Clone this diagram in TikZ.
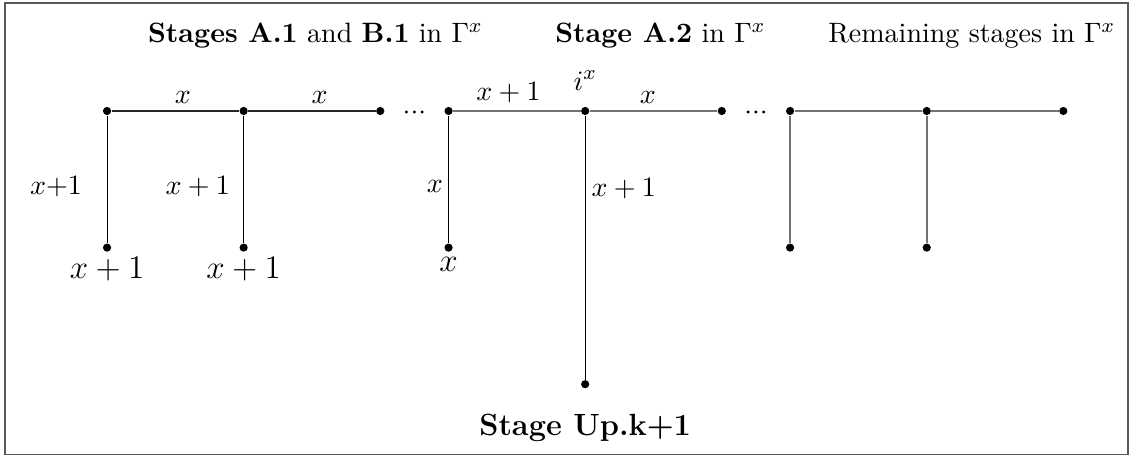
\RequirePackage{fix-cm}
\documentclass[11pt,tikz,border=0pt]{standalone}
\usetikzlibrary{positioning}

\begin{document}
\begin{tikzpicture}[x=26.7pt, y=26.7pt,
		dot/.style={circle, fill, inner sep=0pt, minimum size=3.2pt},
		dark/.style={line width=0.6pt, draw=black!85},
		faded/.style={line width=0.7pt, draw=black!55},
		big/.style={font=\fontsize{12.9}{15}\selectfont}]
		\useasboundingbox (-1.567,-5.11) rectangle (15.02,1.625);
		\draw[line width=0.6pt, black!65] (-1.49,-5.03) rectangle (14.95,1.58);
		
		\node[anchor=base] (head1) at (3.05,1.0) {\textbf{Stages A.1} and \textbf{B.1} in $\Gamma^x$};
		\node[anchor=base] (head2) at (8.1,1.0) {\textbf{Stage A.2} in $\Gamma^x$};
		\node[anchor=base] (head3) at (12.66,1.0) {Remaining stages in $\Gamma^x$};
		
		\node[dot] (t1) at (0,0) {};
		\node[dot] (t2) at (2,0) {};
		\node[dot] (t3) at (4,0) {};
		\node[yshift=-1pt] (dots1) at (4.5,0) {${\cdot}{\cdot}{\cdot}$};
		\node[dot] (t4) at (5,0) {};
		\node[dot] (t5) at (7,0) {};
		\node[dot] (t6) at (9,0) {};
		\node[yshift=-1pt] (dots2) at (9.5,0) {${\cdot}{\cdot}{\cdot}$};
		\node[dot] (t7) at (10,0) {};
		\node[dot] (t8) at (12,0) {};
		\node[dot] (t9) at (14,0) {};
		
		\node[dot] (b1) at (0,-2) {};
		\node[dot] (b2) at (2,-2) {};
		\node[dot] (b4) at (5,-2) {};
		\node[dot] (b5) at (7,-4) {};
		\node[dot] (b7) at (10,-2) {};
		\node[dot] (b8) at (12,-2) {};
		
		\draw[dark] (t1) -- node[pos=0.56, above=-1pt] {$x$} (t2) -- node[pos=0.56, above=-1pt] {$x$} (t3);
		\draw[faded] (t4) -- node[pos=0.435, above=-1pt] {$x+1$} (t5) -- node[pos=0.455, above=-1pt] {$x$} (t6);
		\draw[faded] (t7) -- (t8) -- (t9);
		
		\draw (t1) -- node[pos=0.556, left=6pt] {$x$+1} (b1);
		\draw (t2) -- node[pos=0.556, left=1.5pt] {$x+1$} (b2);
		\draw (t4) -- node[pos=0.556, left, inner sep=2pt] {$x$} (b4);
		\draw (t5) -- node[pos=0.278, right, inner sep=2.3pt] {$x+1$} (b5);
		\draw[faded] (t7) -- (b7);
		\draw[faded] (t8) -- (b8);
		
		\node[above=2.5pt of t5] (ix) {$i^x$};
		\node[big, below=-2pt of b1] (lb1) {$x+1$};
		\node[big, below=-2pt of b2] (lb2) {$x+1$};
		\node[big, below=-2pt of b4] (lb4) {$x$};
		\node[below=6pt of b5] (up) {\large\bfseries Stage Up.k+1};
	\end{tikzpicture}
\end{document}
